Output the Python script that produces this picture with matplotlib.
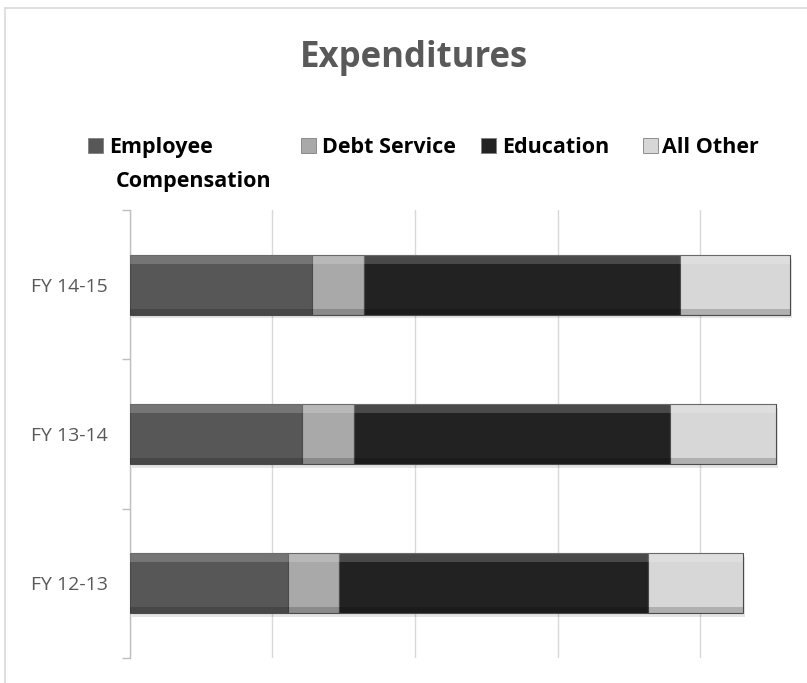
import matplotlib
matplotlib.use('Agg')
import matplotlib.pyplot as plt
from matplotlib.patches import Rectangle
import numpy as np

# data (1 unit = one gridline step)
years = ['FY 12-13', 'FY 13-14', 'FY 14-15']
employee = [1.11, 1.21, 1.28]
debt = [0.36, 0.36, 0.36]
education = [2.16, 2.22, 2.22]
other = [0.67, 0.74, 0.77]

series_names = ['Employee\nCompensation', 'Debt Service', 'Education', 'All Other']
series_values = [employee, debt, education, other]
colors = ['#575757', '#a9a9a9', '#222222', '#d7d7d7']

W, H = 807, 683
plt.rcParams['font.family'] = ['Open Sans', 'DejaVu Sans']

fig = plt.figure(figsize=(W / 100, H / 100), dpi=100)

# chart border
fig.patches.append(Rectangle((5 / W, -0.1), 1.2, 1 - 8 / H + 0.1,
                             transform=fig.transFigure, fill=False,
                             edgecolor='#d9d9d9', linewidth=1.2))

x0, x1, y_top, y_bot = 129.6, 807, 210, 658
ax = fig.add_axes([x0 / W, 1 - y_bot / H, (x1 - x0) / W, (y_bot - y_top) / H])

y = np.arange(len(years))
bar_h = 0.4
left = np.zeros(len(years))
for vals, col in zip(series_values, colors):
    vals = np.array(vals)
    # soft shadow
    ax.barh(y - 0.025, vals, height=bar_h, left=left + 0.015, color='#000000',
            alpha=0.10, linewidth=0, zorder=2)
    ax.barh(y, vals, height=bar_h, left=left, color=col,
            edgecolor='#4a4a4a', linewidth=0.8, zorder=3)
    # bevel: light top edge, dark bottom edge
    ax.barh(y + bar_h / 2 - 0.03, vals, height=0.06, left=left, color='white',
            alpha=0.18, linewidth=0, zorder=4)
    ax.barh(y - bar_h / 2 + 0.02, vals, height=0.04, left=left, color='black',
            alpha=0.18, linewidth=0, zorder=4)
    left += vals

ax.set_xlim(0, (x1 - x0) / 142.7)
ax.set_ylim(-0.5, 2.5)
ax.set_xticks([0, 1, 2, 3, 4])
ax.tick_params(axis='x', length=0, labelbottom=False)
ax.grid(axis='x', color='#d9d9d9', linewidth=1)
ax.set_axisbelow(True)
for s in ['top', 'right', 'bottom']:
    ax.spines[s].set_visible(False)
ax.spines['left'].set_color('#bfbfbf')
ax.spines['left'].set_linewidth(1)

ax.set_yticks([-0.5, 0.5, 1.5, 2.5])
ax.set_yticklabels([])
ax.tick_params(axis='y', which='major', length=6, color='#bfbfbf', width=1)
ax.set_yticks(y, minor=True)
ax.set_yticklabels(years, minor=True)
ax.tick_params(axis='y', which='minor', length=0, pad=16, labelsize=14,
               labelcolor='#595959')

# title
fig.text(414 / W, 1 - 66.7 / H, 'Expenditures', ha='center', va='baseline',
         fontsize=25, fontweight='bold', color='#595959')

# legend, laid out like the original
mark_x = [88, 301, 481, 643]
text_x = [109, 322, 502, 662]
for mx, tx, name, col in zip(mark_x, text_x, series_names, colors):
    fig.patches.append(Rectangle((mx / W, 1 - 153 / H), 15 / W, 15 / H,
                                 transform=fig.transFigure, facecolor=col,
                                 edgecolor='#7f7f7f', linewidth=0.6))
    lines = name.split('\n')
    fig.text(tx / W, 1 - 153.3 / H, lines[0], ha='left', va='baseline',
             fontsize=15.5, fontweight='bold', color='black')
    if len(lines) > 1:
        fig.text(116 / W, 1 - 186.7 / H, lines[1], ha='left', va='baseline',
                 fontsize=15.5, fontweight='bold', color='black')

fig.savefig('out.png', dpi=100)
